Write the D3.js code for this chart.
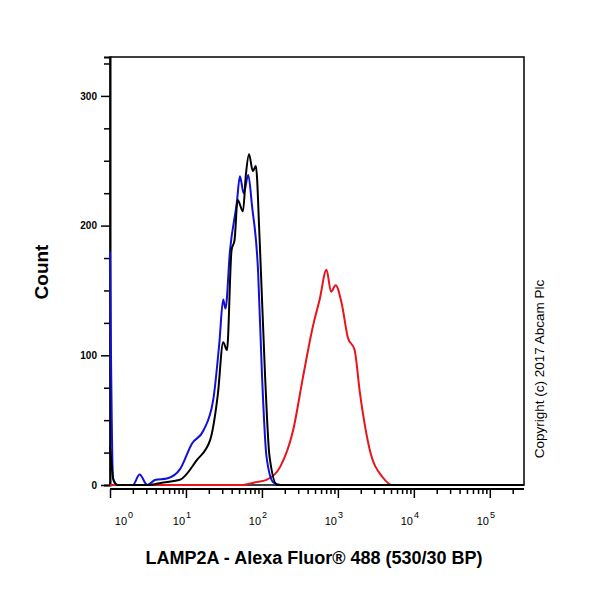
<!DOCTYPE html>
<html><head><meta charset="utf-8">
<script src="https://cdn.jsdelivr.net/npm/d3@7"></script>
<style>body{margin:0;background:#fff}</style>
</head><body>
<svg id="chart" width="600" height="600"></svg>
<script>
// [log10 intensity, count]
const blue = [[0,180],[0.04,5],[0.1,0],[0.2,0],[0.3,0],[0.39,8],[0.49,0],[0.6,4],[0.75,5],[0.92,12],[1.08,32],[1.23,42],[1.36,66],[1.44,110],[1.49,143],[1.52,136],[1.58,181],[1.67,218],[1.71,238],[1.76,225],[1.82,239],[1.87,215],[1.95,164],[2.0,86],[2.06,22],[2.15,2],[2.25,0],[5.45,0]];
const black = [[0,30],[0.05,3],[0.1,0],[0.5,0],[0.7,2],[0.92,4],[1.14,19],[1.32,35],[1.42,70],[1.49,110],[1.54,104],[1.6,181],[1.64,189],[1.68,220],[1.75,211],[1.79,240],[1.83,255],[1.88,242],[1.92,246],[1.97,189],[2.04,86],[2.1,22],[2.2,0],[5.45,0]];
const red = [[0,0],[1.75,0],[1.9,2],[2.06,4],[2.24,14],[2.41,42],[2.54,83],[2.67,122],[2.76,143],[2.85,166],[2.91,149],[2.97,154],[3.05,140],[3.13,114],[3.22,104],[3.29,71],[3.42,27],[3.59,6],[3.72,0],[5.45,0]];
const xDecades = [0,1,2,3,4,5];
const yTicks = [0,100,200,300];

const svg = d3.select("#chart");
const x = d3.scaleLinear().domain([0,5.45]).range([110,524]);
const y = d3.scaleLinear().domain([0,330]).range([485,57]);

// frame
svg.append("rect").attr("x",110).attr("y",57).attr("width",414).attr("height",428)
  .attr("fill","none").attr("stroke","#000").attr("stroke-width",1.5);

// y axis
const yMinor = d3.range(0,326,25);
svg.append("g").attr("transform","translate(110,0)")
  .call(d3.axisLeft(y).tickValues(yMinor).tickSize(6).tickFormat(d => yTicks.includes(d) ? d : ""))
  .call(g => { g.select(".domain").attr("stroke-width",2);
    g.selectAll(".tick line").attr("stroke-width",1.5).attr("x2", d => yTicks.includes(d) ? -9 : -6);
    g.selectAll(".tick text").attr("x",-13).style("font","bold 10px Arial, 'Liberation Sans'"); });

// x axis
const xMinor = [];
xDecades.forEach(k => { for (let m = 1; m < 10; m++) { const v = k + Math.log10(m); if (v <= 5.42) xMinor.push({v, major: m === 1}); } });
svg.append("g").attr("transform","translate(0,489)")
  .call(d3.axisBottom(x).tickValues(xMinor.map(d=>d.v)).tickSize(5).tickFormat(""))
  .call(g => { g.select(".domain").attr("stroke-width",2).attr("d","M110,0H524");
    g.selectAll(".tick line").attr("stroke-width",1.5)
      .attr("y2", (d,i) => xMinor[i].major ? 9 : 5); });
const lab = svg.append("g").selectAll("text").data(xDecades).join("text")
  .attr("x",d=> d===0 ? x(d)+14 : x(d)-4).attr("y",525).attr("text-anchor","middle")
  .style("font","11px Arial, 'Liberation Sans'");
lab.append("tspan").text("10");
lab.append("tspan").attr("dy",-7).attr("dx",1).style("font-size","9px").text(d=>d);

// curves
const line = d3.line().x(d=>x(d[0])).y(d=>y(d[1])).curve(d3.curveMonotoneX);
[[red,"#e8141c"],[blue,"#1010d8"],[black,"#000"]].forEach(([data,c]) => {
  svg.append("path").datum(data).attr("d",line).attr("fill","none").attr("stroke",c).attr("stroke-width",2);
});

// labels
svg.append("text").attr("transform","translate(48,272) rotate(-90)").attr("text-anchor","middle")
  .style("font","bold 19px Arial, 'Liberation Sans'").text("Count");
svg.append("text").attr("x",314).attr("y",564).attr("text-anchor","middle")
  .style("font","bold 18px Arial, 'Liberation Sans'").text("LAMP2A - Alexa Fluor® 488 (530/30 BP)");
svg.append("text").attr("transform","translate(544,369) rotate(-90)").attr("text-anchor","middle")
  .style("font","13.5px Arial, 'Liberation Sans'").text("Copyright (c) 2017 Abcam Plc");
</script>
</body></html>
